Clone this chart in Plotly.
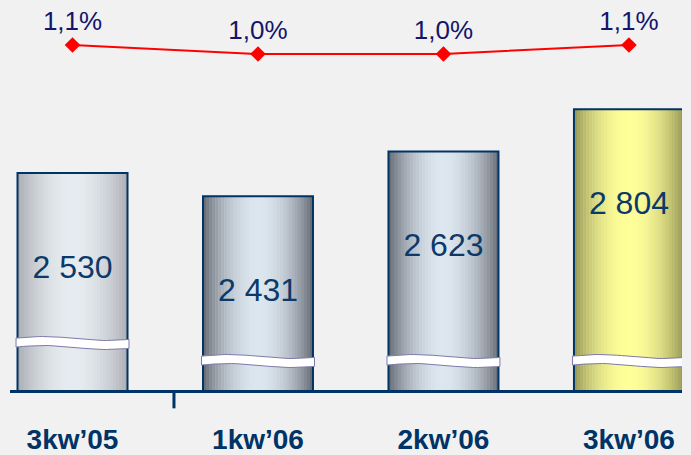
import math
import plotly.graph_objects as go

# ---- data ----
quarters = ["3kw\u201905", "1kw\u201906", "2kw\u201906", "3kw\u201906"]
amounts = [2530, 2431, 2623, 2804]
ratios = [1.1, 1.0, 1.0, 1.1]

# ---- styles ----
edge_cols = [(166, 169, 174), (96, 100, 108), (96, 100, 108), (145, 145, 83)]
mid_cols = [(230, 235, 240), (220, 230, 239), (220, 230, 239), (255, 255, 153)]
navy = "#0b3a6a"
BG = "#f1f1f1"
BAR_W = 0.593
N_SLICES = 36
Y0, Y1 = 1600, 3272          # visible bar-axis range (broken axis)
PX_PER_UNIT = 390 / (Y1 - Y0)
break_px = [47, 29, 29, 29]  # height of break mark above baseline, px

x = list(range(len(quarters)))

fig = go.Figure()

def mix(a, b, f):
    return "rgb(%d,%d,%d)" % tuple(round(a[i] + (b[i] - a[i]) * f) for i in range(3))

# gradient slices
for k in range(N_SLICES):
    t = (k + 0.5) / N_SLICES
    f = math.sin(math.pi * t) ** 0.8
    cols = [mix(edge_cols[j], mid_cols[j], f) for j in range(len(x))]
    fig.add_trace(go.Bar(
        x=x, y=amounts, width=BAR_W / N_SLICES + 0.002,
        offset=-BAR_W / 2 + k * BAR_W / N_SLICES,
        marker=dict(color=cols, line=dict(width=0)),
        hoverinfo="skip", showlegend=False))

# outline
fig.add_trace(go.Bar(
    x=x, y=amounts, width=BAR_W, offset=-BAR_W / 2,
    marker=dict(color="rgba(0,0,0,0)", line=dict(color="#003366", width=2)),
    hoverinfo="skip", showlegend=False))

# break marks
for j, xc in enumerate(x):
    yc = Y0 + break_px[j] / PX_PER_UNIT
    half = 4.5 / PX_PER_UNIT
    amp = 2.0 / PX_PER_UNIT
    n = 30
    xs_top, ys_top = [], []
    for i in range(n + 1):
        t = i / n
        xs_top.append(xc - BAR_W / 2 - 0.008 + t * (BAR_W + 0.016))
        ys_top.append(yc + half + amp * math.sin(2 * math.pi * t * 0.9 + 0.2))
    xs = xs_top + xs_top[::-1] + [xs_top[0]]
    ys = ys_top + [v - 2 * half for v in ys_top[::-1]] + [ys_top[0]]
    fig.add_trace(go.Scatter(
        x=xs, y=ys, mode="lines", fill="toself", fillcolor="white",
        line=dict(color="#7d7aa8", width=1), hoverinfo="skip", showlegend=False))

# value labels
fig.add_trace(go.Scatter(
    x=x, y=[a - 415 for a in amounts], mode="text",
    text=[f"{a:,}".replace(",", " ") for a in amounts],
    textfont=dict(family="Liberation Sans, Arial, sans-serif", size=32, color=navy),
    hoverinfo="skip", showlegend=False))

# ratio line
fig.add_trace(go.Scatter(
    x=x, y=ratios, yaxis="y2", mode="lines+markers+text",
    line=dict(color="#ff0000", width=2),
    marker=dict(symbol="diamond", size=12, color="#ff0000"),
    text=[f"{r:.1f}".replace(".", ",") + "%" for r in ratios],
    textposition="top center",
    textfont=dict(family="Liberation Sans, Arial, sans-serif", size=26, color="#14146b"),
    cliponaxis=False, hoverinfo="skip", showlegend=False))

fig.update_layout(
    width=691, height=455,
    margin=dict(l=10, r=9, t=0, b=65, autoexpand=False),
    paper_bgcolor=BG, plot_bgcolor=BG,
    barmode="overlay", showlegend=False,
    xaxis=dict(type="linear", range=[-0.337, 3.286], tickvals=x, ticktext=quarters,
               showgrid=False, zeroline=False, showline=True, linecolor="#003366",
               linewidth=3, ticks="", ticklabelstandoff=22, automargin=False,
               tickfont=dict(family="Liberation Sans, Arial, sans-serif",
                             size=28, color="#003366", weight="bold")),
    yaxis=dict(range=[Y0, Y1], visible=False, showgrid=False, automargin=False),
    yaxis2=dict(range=[-2.733, 1.6], overlaying="y", visible=False, showgrid=False,
                automargin=False),
    shapes=[dict(type="line", xref="x", yref="paper", x0=0.547, x1=0.547, y0=0, y1=-0.047,
                 line=dict(color="#003366", width=3))],
)

fig.write_html("out.html", config={"displayModeBar": False},
               post_script="document.body.style.margin='0';document.body.style.background='%s';" % BG)
